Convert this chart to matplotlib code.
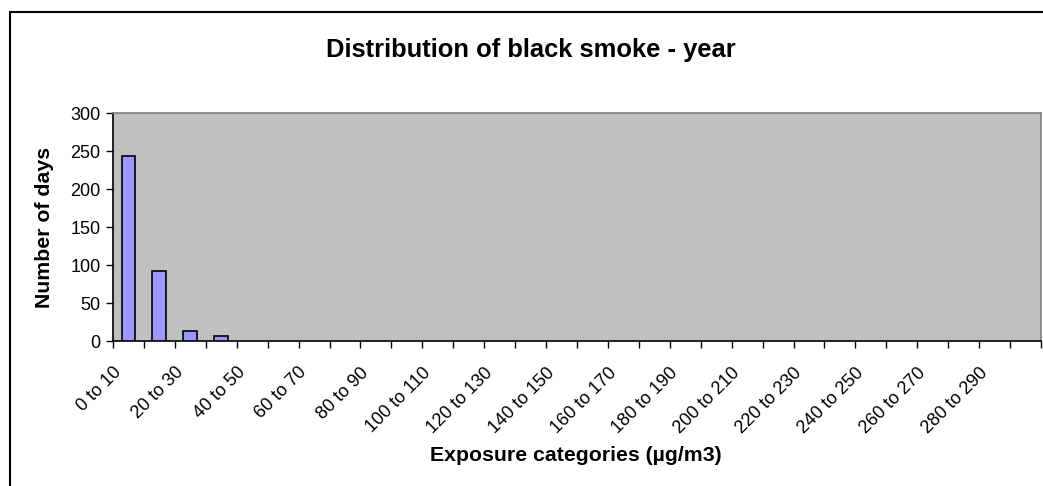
import matplotlib
matplotlib.use("Agg")
import matplotlib.pyplot as plt
from matplotlib.patches import Rectangle
import numpy as np

# counts of days per 10 µg/m3 band
lower = list(range(0, 300, 10))
categories = [f"{lo} to {lo + 10}" for lo in lower]
days = [244, 92, 13, 6] + [0] * 26

plt.rcParams['font.family'] = ['Liberation Sans', 'DejaVu Sans']

fig = plt.figure(figsize=(10.43, 4.86), dpi=100)
# chart frame
fig.patches.append(Rectangle((10 / 1043, -0.1), 1.2, 1 - 12 / 486 + 0.1,
                             transform=fig.transFigure, fill=False,
                             edgecolor='black', linewidth=1.5, zorder=0))

ax = fig.add_axes([113 / 1043, 1 - 341 / 486, 928 / 1043, 228 / 486])
ax.set_facecolor('#C0C0C0')

x = np.arange(len(categories))
edges = ['black' if d > 0 else 'none' for d in days]
ax.bar(x, days, width=0.45, color='#9999FF', edgecolor=edges, linewidth=1.2, zorder=3)

ax.set_xlim(-0.5, len(categories) - 0.5)
ax.set_ylim(0, 300)
ax.set_yticks(range(0, 301, 50))
ax.tick_params(axis='y', labelsize=13, length=5, width=1, direction='out', pad=4)

# ticks on category edges, labels on every other category
ax.set_xticks(np.arange(-0.5, len(categories) + 0.5, 1))
ax.set_xticklabels([])
ax.tick_params(axis='x', length=5, width=1, direction='out')
for i in range(0, len(categories), 2):
    ax.annotate(categories[i], xy=(i, 0), xycoords=('data', 'axes fraction'),
                xytext=(-7, -21), textcoords='offset points',
                rotation=45, ha='right', va='center', rotation_mode='anchor',
                fontsize=13)

for side in ['top', 'right']:
    ax.spines[side].set_color('#808080')
    ax.spines[side].set_linewidth(1.2)
for side in ['left', 'bottom']:
    ax.spines[side].set_color('black')
    ax.spines[side].set_linewidth(1.2)

fig.text(531 / 1043, 1 - 50 / 486, "Distribution of black smoke - year",
         ha='center', va='center', fontsize=18.4, fontweight='bold')
fig.text(45 / 1043, 1 - 227 / 486, "Number of days", rotation=90,
         ha='center', va='center', fontsize=15.3, fontweight='bold')
fig.text(576 / 1043, 1 - 455 / 486, "Exposure categories (µg/m3)",
         ha='center', va='center', fontsize=15.3, fontweight='bold')

fig.savefig("out.png", dpi=100)
